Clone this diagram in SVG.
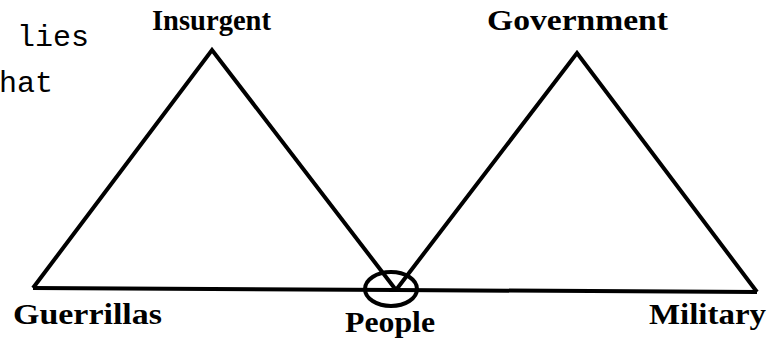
<svg xmlns="http://www.w3.org/2000/svg" width="772" height="343" viewBox="0 0 772 343">
<style>
.lbl{font-family:"Liberation Serif","Times New Roman",serif;font-weight:bold;font-size:29px;fill:#000}
.mono{font-family:"Liberation Mono","Courier New",monospace;font-size:30px;fill:#000}
.ln{fill:none;stroke:#000;stroke-width:4;stroke-linejoin:miter;stroke-linecap:butt}
</style>
<rect width="772" height="343" fill="#fff"/>
<text class="mono" x="17" y="46">lies</text>
<text class="mono" x="-1" y="92">hat</text>
<g id="connectors">
<polyline class="ln" points="33,288 396,290 757,292"/>
</g>
<g id="insurgent-triangle">
<polyline class="ln" points="33,288 212,50 396,290"/>
<text class="lbl" x="152" y="30" textLength="119" lengthAdjust="spacingAndGlyphs">Insurgent</text>
</g>
<g id="government-triangle">
<polyline class="ln" points="396,290 577,53 757,292"/>
<text class="lbl" x="487" y="30" textLength="181" lengthAdjust="spacingAndGlyphs">Government</text>
</g>
<g id="people">
<ellipse class="ln" cx="391" cy="289" rx="26" ry="17"/>
<text class="lbl" x="345" y="332" textLength="90" lengthAdjust="spacingAndGlyphs">People</text>
</g>
<g id="guerrillas">
<text class="lbl" x="13" y="324" textLength="149" lengthAdjust="spacingAndGlyphs">Guerrillas</text>
</g>
<g id="military">
<text class="lbl" x="649" y="324" textLength="117" lengthAdjust="spacingAndGlyphs">Military</text>
</g>
</svg>
